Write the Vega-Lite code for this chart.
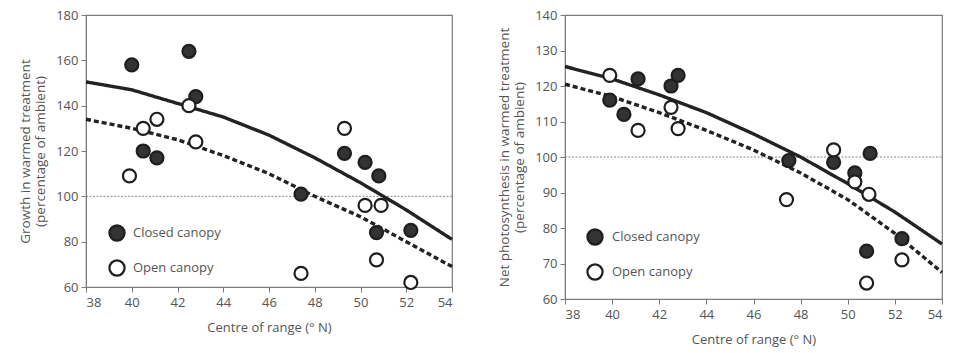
{
  "$schema": "https://vega.github.io/schema/vega-lite/v6.json",
  "background": "white",
  "padding": {"left": 17, "top": 8, "right": 5, "bottom": 5},
  "spacing": 36,
  "config": {
    "font": "Open Sans",
    "view": {"stroke": "#7a7a7a", "strokeWidth": 1.2},
    "axis": {
      "domainColor": "#7a7a7a", "tickColor": "#7a7a7a", "tickSize": 5,
      "labelColor": "#555555", "labelFontSize": 13, "labelFont": "Open Sans",
      "titleColor": "#555555", "titleFontSize": 13, "titleFontWeight": "normal", "titleFont": "Open Sans",
      "grid": false
    },
    "legend": {"labelFont": "Open Sans", "labelFontSize": 13, "labelColor": "#555555"}
  },
  "datasets": {
    "reference": [{"lat": 38, "lat2": 54, "value": 100}],
    "growth_points": [
      {"lat": 40.0, "value": 158, "canopy": "Closed canopy"},
      {"lat": 42.5, "value": 164, "canopy": "Closed canopy"},
      {"lat": 42.8, "value": 144, "canopy": "Closed canopy"},
      {"lat": 40.5, "value": 120, "canopy": "Closed canopy"},
      {"lat": 41.1, "value": 117, "canopy": "Closed canopy"},
      {"lat": 47.4, "value": 101, "canopy": "Closed canopy"},
      {"lat": 49.3, "value": 119, "canopy": "Closed canopy"},
      {"lat": 50.2, "value": 115, "canopy": "Closed canopy"},
      {"lat": 50.8, "value": 109, "canopy": "Closed canopy"},
      {"lat": 50.7, "value": 84, "canopy": "Closed canopy"},
      {"lat": 52.2, "value": 85, "canopy": "Closed canopy"},
      {"lat": 39.9, "value": 109, "canopy": "Open canopy"},
      {"lat": 40.5, "value": 130, "canopy": "Open canopy"},
      {"lat": 41.1, "value": 134, "canopy": "Open canopy"},
      {"lat": 42.5, "value": 140, "canopy": "Open canopy"},
      {"lat": 42.8, "value": 124, "canopy": "Open canopy"},
      {"lat": 47.4, "value": 66, "canopy": "Open canopy"},
      {"lat": 49.3, "value": 130, "canopy": "Open canopy"},
      {"lat": 50.2, "value": 96, "canopy": "Open canopy"},
      {"lat": 50.9, "value": 96, "canopy": "Open canopy"},
      {"lat": 50.7, "value": 72, "canopy": "Open canopy"},
      {"lat": 52.2, "value": 62, "canopy": "Open canopy"}
    ],
    "growth_fits": [
      {"lat": 38, "value": 150.5, "fit": "closed"},
      {"lat": 40, "value": 147, "fit": "closed"},
      {"lat": 42, "value": 141, "fit": "closed"},
      {"lat": 44, "value": 135, "fit": "closed"},
      {"lat": 46, "value": 127, "fit": "closed"},
      {"lat": 48, "value": 117, "fit": "closed"},
      {"lat": 50, "value": 106, "fit": "closed"},
      {"lat": 52, "value": 94, "fit": "closed"},
      {"lat": 54, "value": 81, "fit": "closed"},
      {"lat": 38, "value": 134, "fit": "open"},
      {"lat": 40, "value": 130, "fit": "open"},
      {"lat": 42, "value": 125, "fit": "open"},
      {"lat": 44, "value": 118, "fit": "open"},
      {"lat": 46, "value": 110, "fit": "open"},
      {"lat": 48, "value": 100, "fit": "open"},
      {"lat": 50, "value": 91, "fit": "open"},
      {"lat": 52, "value": 80, "fit": "open"},
      {"lat": 54, "value": 69, "fit": "open"}
    ],
    "photo_points": [
      {"lat": 39.9, "value": 116, "canopy": "Closed canopy"},
      {"lat": 40.5, "value": 112, "canopy": "Closed canopy"},
      {"lat": 41.1, "value": 122, "canopy": "Closed canopy"},
      {"lat": 42.5, "value": 120, "canopy": "Closed canopy"},
      {"lat": 42.8, "value": 123, "canopy": "Closed canopy"},
      {"lat": 47.5, "value": 99, "canopy": "Closed canopy"},
      {"lat": 49.4, "value": 98.5, "canopy": "Closed canopy"},
      {"lat": 50.3, "value": 95.5, "canopy": "Closed canopy"},
      {"lat": 50.95, "value": 101, "canopy": "Closed canopy"},
      {"lat": 50.8, "value": 73.5, "canopy": "Closed canopy"},
      {"lat": 52.3, "value": 77, "canopy": "Closed canopy"},
      {"lat": 39.9, "value": 123, "canopy": "Open canopy"},
      {"lat": 41.1, "value": 107.5, "canopy": "Open canopy"},
      {"lat": 42.5, "value": 114, "canopy": "Open canopy"},
      {"lat": 42.8, "value": 108, "canopy": "Open canopy"},
      {"lat": 47.4, "value": 88, "canopy": "Open canopy"},
      {"lat": 49.4, "value": 102, "canopy": "Open canopy"},
      {"lat": 50.3, "value": 93, "canopy": "Open canopy"},
      {"lat": 50.9, "value": 89.5, "canopy": "Open canopy"},
      {"lat": 50.8, "value": 64.5, "canopy": "Open canopy"},
      {"lat": 52.3, "value": 71, "canopy": "Open canopy"}
    ],
    "photo_fits": [
      {"lat": 38, "value": 125.5, "fit": "closed"},
      {"lat": 40, "value": 122, "fit": "closed"},
      {"lat": 42, "value": 117.5, "fit": "closed"},
      {"lat": 44, "value": 112.5, "fit": "closed"},
      {"lat": 46, "value": 106.5, "fit": "closed"},
      {"lat": 48, "value": 100, "fit": "closed"},
      {"lat": 50, "value": 92.5, "fit": "closed"},
      {"lat": 52, "value": 84.5, "fit": "closed"},
      {"lat": 54, "value": 75.5, "fit": "closed"},
      {"lat": 38, "value": 120.5, "fit": "open"},
      {"lat": 40, "value": 117, "fit": "open"},
      {"lat": 42, "value": 112.5, "fit": "open"},
      {"lat": 44, "value": 107.5, "fit": "open"},
      {"lat": 46, "value": 102, "fit": "open"},
      {"lat": 48, "value": 95.5, "fit": "open"},
      {"lat": 50, "value": 88, "fit": "open"},
      {"lat": 52, "value": 78.5, "fit": "open"},
      {"lat": 54, "value": 67.5, "fit": "open"}
    ]
  },
  "resolve": {"scale": {"fill": "independent", "strokeDash": "independent"}, "legend": {"fill": "independent"}},
  "hconcat": [
    {
      "width": 366,
      "height": 272,
      "encoding": {
        "x": {"field": "lat", "type": "quantitative", "scale": {"domain": [38, 54], "nice": false}, "axis": {"values": [38, 40, 42, 44, 46, 48, 50, 52, 54], "title": "Centre of range (° N)", "titlePadding": 12, "labelPadding": 4}},
        "y": {"field": "value", "type": "quantitative", "scale": {"domain": [60, 180], "nice": false, "zero": false}, "axis": {"values": [60, 80, 100, 120, 140, 160, 180], "title": ["Growth in warmed treatment", "(percentage of ambient)"], "titlePadding": 8, "labelPadding": 3, "titleFontSize": 13.5}}
      },
      "layer": [
        {
          "data": {"name": "reference"},
          "mark": {"type": "rule", "color": "#888888", "strokeWidth": 1, "strokeDash": [2, 1.5]},
          "encoding": {"x2": {"field": "lat2"}}
        },
        {
          "data": {"name": "growth_fits"},
          "mark": {"type": "line", "color": "#222222", "strokeWidth": 3.4},
          "encoding": {
            "detail": {"field": "fit"},
            "strokeDash": {"field": "fit", "type": "nominal", "scale": {"domain": ["closed", "open"], "range": [[1, 0], [5, 3]]}, "legend": null}
          }
        },
        {
          "data": {"name": "growth_points"},
          "mark": {"type": "point", "shape": "circle", "size": 170, "strokeWidth": 2.2, "stroke": "#1e1e1e", "filled": true, "opacity": 1, "fillOpacity": 1},
          "encoding": {
            "fill": {"field": "canopy", "type": "nominal", "scale": {"domain": ["Closed canopy", "Open canopy"], "range": ["#333333", "#ffffff"]},
              "legend": {"title": null, "orient": "none", "legendX": 22, "legendY": 209, "symbolType": "circle", "symbolSize": 230, "symbolStrokeWidth": 2.2, "symbolStrokeColor": "#1e1e1e", "symbolOpacity": 1, "rowPadding": 11, "labelOffset": 7}}
          }
        }
      ]
    },
    {
      "width": 377,
      "height": 284,
      "encoding": {
        "x": {"field": "lat", "type": "quantitative", "scale": {"domain": [38, 54], "nice": false}, "axis": {"values": [38, 40, 42, 44, 46, 48, 50, 52, 54], "title": "Centre of range (° N)", "titlePadding": 12, "labelPadding": 4}},
        "y": {"field": "value", "type": "quantitative", "scale": {"domain": [60, 140], "nice": false, "zero": false}, "axis": {"values": [60, 70, 80, 90, 100, 110, 120, 130, 140], "title": ["Net photosynthesis in warmed treatment", "(percentage of ambient)"], "titlePadding": 8, "labelPadding": 3, "titleFontSize": 13.5}}
      },
      "layer": [
        {
          "data": {"name": "reference"},
          "mark": {"type": "rule", "color": "#888888", "strokeWidth": 1, "strokeDash": [2, 1.5]},
          "encoding": {"x2": {"field": "lat2"}}
        },
        {
          "data": {"name": "photo_fits"},
          "mark": {"type": "line", "color": "#222222", "strokeWidth": 3.4},
          "encoding": {
            "detail": {"field": "fit"},
            "strokeDash": {"field": "fit", "type": "nominal", "scale": {"domain": ["closed", "open"], "range": [[1, 0], [5, 3]]}, "legend": null}
          }
        },
        {
          "data": {"name": "photo_points"},
          "mark": {"type": "point", "shape": "circle", "size": 170, "strokeWidth": 2.2, "stroke": "#1e1e1e", "filled": true, "opacity": 1, "fillOpacity": 1},
          "encoding": {
            "fill": {"field": "canopy", "type": "nominal", "scale": {"domain": ["Closed canopy", "Open canopy"], "range": ["#333333", "#ffffff"]},
              "legend": {"title": null, "orient": "none", "legendX": 21, "legendY": 213, "symbolType": "circle", "symbolSize": 230, "symbolStrokeWidth": 2.2, "symbolStrokeColor": "#1e1e1e", "symbolOpacity": 1, "rowPadding": 11, "labelOffset": 8}}
          }
        }
      ]
    }
  ]
}
